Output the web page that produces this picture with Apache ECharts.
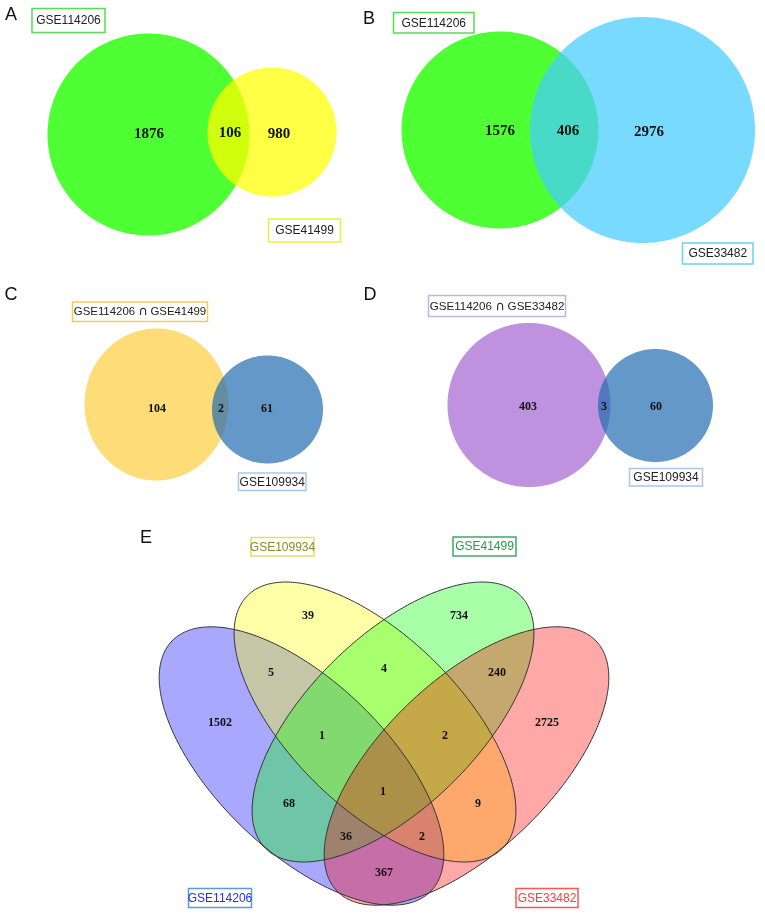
<!DOCTYPE html>
<html><head><meta charset="utf-8">
<script src="https://cdn.jsdelivr.net/npm/echarts@6/dist/echarts.min.js"></script>
<style>html,body{margin:0;padding:0;background:#fff}#c{width:765px;height:915px}</style>
</head><body><div id="c"></div>
<script>
// ---------------- data ----------------
const panelLetters = ['A', 'B', 'C', 'D', 'E'];
const panelA_sets = ['GSE114206', 'GSE41499'];
const panelA_counts = [1876, 106, 980];          // only set1, both, only set2
const panelB_sets = ['GSE114206', 'GSE33482'];
const panelB_counts = [1576, 406, 2976];
const panelC_sets = ['GSE114206 \u2229 GSE41499', 'GSE109934'];
const panelC_counts = [104, 2, 61];
const panelD_sets = ['GSE114206 \u2229 GSE33482', 'GSE109934'];
const panelD_counts = [403, 3, 60];
const panelE_sets = ['GSE114206', 'GSE109934', 'GSE41499', 'GSE33482'];
// region keys: B=GSE114206, Y=GSE109934, G=GSE41499, R=GSE33482
const panelE_regions = ['Y', 'G', 'BY', 'YG', 'GR', 'B', 'BYG', 'YGR', 'R', 'BYGR', 'BG', 'YR', 'BGR', 'BYR', 'BR'];
const panelE_counts  = [39, 734, 5, 4, 240, 1502, 1, 2, 2725, 1, 68, 9, 36, 2, 367];

// ---------------- layout (coordinate units of the hidden axes) ----------------
const shapeLayout = [
  // panel A
  {cx: 148.5, cy: 134.5, rx: 101, ry: 101, ang: 0, fill: '#4dff33'},
  {cx: 272, cy: 132, rx: 64.5, ry: 64.5, ang: 0, fill: 'rgba(255,255,0,0.73)'},
  // panel B
  {cx: 500, cy: 130, rx: 98.5, ry: 98.5, ang: 0, fill: '#4dff33'},
  {cx: 642.5, cy: 130, rx: 112.5, ry: 113, ang: 0, fill: 'rgba(70,204,255,0.73)'},
  // panel C
  {cx: 156.5, cy: 404.5, rx: 72, ry: 76, ang: 0, fill: '#fedc78'},
  {cx: 267.5, cy: 409.5, rx: 55.5, ry: 54, ang: 0, fill: 'rgba(34,108,176,0.7)'},
  // panel D
  {cx: 529, cy: 405, rx: 81.5, ry: 82, ang: 0, fill: '#be92de'},
  {cx: 655.5, cy: 405.5, rx: 57.5, ry: 56.5, ang: 0, fill: 'rgba(34,108,176,0.7)'},
  // panel E fills (blue, yellow, green, red)
  {cx: 301.5, cy: 766, rx: 180, ry: 85, ang: 44, fill: 'rgba(0,0,255,0.34)'},
  {cx: 375, cy: 722, rx: 179.5, ry: 85, ang: 44.7, fill: 'rgba(255,255,0,0.34)'},
  {cx: 393, cy: 722, rx: 179.5, ry: 85, ang: -44.7, fill: 'rgba(0,255,0,0.34)'},
  {cx: 466.5, cy: 766, rx: 180, ry: 85, ang: -44, fill: 'rgba(255,0,0,0.34)'}
];
const outlineIdx = [8, 9, 10, 11];

const countPosA = [[149, 134], [230, 133], [279, 134]];
const countPosB = [[500, 131], [568, 131], [649, 132]];
const countPosC = [[157, 409], [221, 409], [267, 409]];
const countPosD = [[528, 407], [604, 407], [656, 407]];
const countPosE = [[308, 616], [459, 616], [271, 673], [384, 669], [497, 673], [220, 723], [322, 736], [445, 736],
                   [547, 723], [383, 792], [289, 804], [478, 804], [346, 837], [422, 837], [384, 873]];

const letterPos = [[11, 15], [369, 19], [11, 295], [370, 295], [146, 538]];

// set-name boxes: [x0, y0, x1, y1], border colour, text colour, font size
const boxes = [
  {text: panelA_sets[0], b: [32, 8.5, 105, 32.5], bc: '#55dd55', tc: '#222', fs: 12},
  {text: panelA_sets[1], b: [268.5, 219, 340.5, 242], bc: '#eeee44', tc: '#222', fs: 12},
  {text: panelB_sets[0], b: [393.5, 12.5, 474, 33], bc: '#55dd55', tc: '#222', fs: 12},
  {text: panelB_sets[1], b: [682.5, 243, 753, 264], bc: '#66d4f4', tc: '#222', fs: 12},
  {text: panelC_sets[0], b: [72.5, 302, 207.5, 321.5], bc: '#f2cc5a', tc: '#222', fs: 11.4},
  {text: panelC_sets[1], b: [238.5, 473, 306, 490.5], bc: '#aac8e8', tc: '#222', fs: 12},
  {text: panelD_sets[0], b: [428.5, 295.5, 565.5, 316.5], bc: '#cbaee4', tc: '#222', fs: 11.6},
  {text: panelD_sets[1], b: [629.5, 468.5, 702.5, 486], bc: '#aac8e8', tc: '#222', fs: 12},
  {text: panelE_sets[1], b: [251, 537.5, 314, 556], bc: '#dede78', tc: '#8c8c2a', fs: 12},
  {text: panelE_sets[2], b: [453, 537, 516, 556], bc: '#40a868', tc: '#2a9a44', fs: 12},
  {text: panelE_sets[0], b: [188.5, 888.5, 251.5, 907.5], bc: '#5a9ae0', tc: '#2a2aff', fs: 12},
  {text: panelE_sets[3], b: [516, 888.5, 578, 907.5], bc: '#ff5555', tc: '#ff3a3a', fs: 12}
];

const SERIF = '"Liberation Serif", "Times New Roman", serif';
const SANS = '"Liberation Sans", Arial, Helvetica, sans-serif';

function ellipsePoints(s, api) {
  const pts = [];
  const a = s.ang * Math.PI / 180;
  const n = 360;
  for (let i = 0; i < n; i++) {
    const t = i / n * 2 * Math.PI;
    const u = s.rx * Math.cos(t), v = s.ry * Math.sin(t);
    const x = s.cx + u * Math.cos(a) - v * Math.sin(a);
    const y = s.cy + u * Math.sin(a) + v * Math.cos(a);
    pts.push(api.coord([x, y]));
  }
  return pts;
}

function textSeries(name, counts, pos, size) {
  return {
    type: 'custom', name: name, coordinateSystem: 'cartesian2d', silent: true, z: 10,
    data: counts.map((c, i) => [pos[i][0], pos[i][1], c]),
    renderItem: function (params, api) {
      const p = api.coord([api.value(0), api.value(1)]);
      return {type: 'text', x: p[0], y: p[1],
        style: {text: String(api.value(2)), font: 'bold ' + size + 'px ' + SERIF,
                fill: '#111', align: 'center', verticalAlign: 'middle'}};
    }
  };
}

function richLabel(txt) {
  return txt.split('\u2229').map(p => '{a|' + p + '}').join('{b|\u2229}');
}

const chart = echarts.init(document.getElementById('c'), null, {renderer: 'canvas'});

const graphics = [];
boxes.forEach(bx => {
  const [x0, y0, x1, y1] = bx.b;
  graphics.push({type: 'rect', shape: {x: x0, y: y0, width: x1 - x0, height: y1 - y0},
    style: {fill: '#fff', stroke: bx.bc, lineWidth: 1.5}, z: 20});
  graphics.push({type: 'text', x: (x0 + x1) / 2, y: (y0 + y1) / 2 + 0.5,
    style: {text: richLabel(bx.text), align: 'center', verticalAlign: 'middle',
      rich: {
        a: {font: bx.fs + 'px ' + SANS, fill: bx.tc},
        b: {font: (bx.fs + 1) + 'px "DejaVu Sans", sans-serif', fill: bx.tc}
      }}, z: 21});
});
panelLetters.forEach((L, i) => {
  graphics.push({type: 'text', x: letterPos[i][0], y: letterPos[i][1],
    style: {text: L, font: '18px ' + SANS, fill: '#111', align: 'center', verticalAlign: 'middle'}, z: 21});
});

chart.setOption({
  animation: false,
  backgroundColor: '#fff',
  grid: {left: 0, top: 0, right: 0, bottom: 0, containLabel: false},
  xAxis: {type: 'value', min: 0, max: 765, show: false},
  yAxis: {type: 'value', min: 0, max: 915, inverse: true, show: false},
  graphic: graphics,
  series: [
    {
      type: 'custom', name: 'sets', coordinateSystem: 'cartesian2d', silent: true, z: 1,
      data: shapeLayout.map(s => [s.cx, s.cy]),
      renderItem: function (params, api) {
        const s = shapeLayout[params.dataIndex];
        return {type: 'polygon', shape: {points: ellipsePoints(s, api)},
          style: {fill: s.fill, stroke: null, lineWidth: 0}};
      }
    },
    {
      type: 'custom', name: 'outlines', coordinateSystem: 'cartesian2d', silent: true, z: 2,
      data: outlineIdx.map(i => [shapeLayout[i].cx, shapeLayout[i].cy]),
      renderItem: function (params, api) {
        const s = shapeLayout[outlineIdx[params.dataIndex]];
        return {type: 'polygon', shape: {points: ellipsePoints(s, api)},
          style: {fill: null, stroke: '#333', lineWidth: 1}};
      }
    },
    textSeries('A', panelA_counts, countPosA, 15),
    textSeries('B', panelB_counts, countPosB, 15),
    textSeries('C', panelC_counts, countPosC, 12),
    textSeries('D', panelD_counts, countPosD, 12),
    textSeries('E', panelE_counts, countPosE, 12)
  ]
});
</script></body></html>
